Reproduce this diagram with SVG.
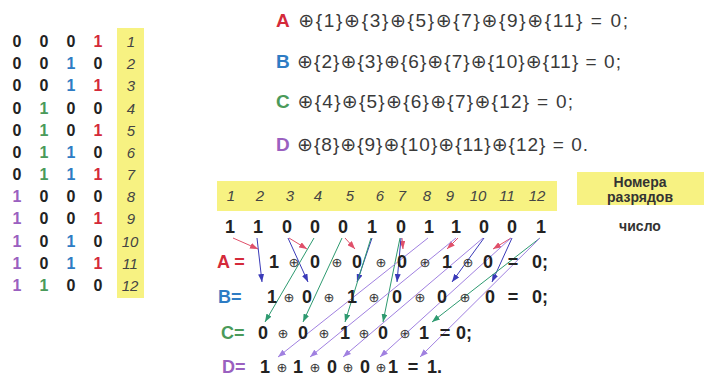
<svg xmlns="http://www.w3.org/2000/svg" width="704" height="378" viewBox="0 0 704 378">
<defs>
<style>
.t{font-family:"Liberation Sans","DejaVu Sans",sans-serif;}
.d{font-family:"Liberation Sans",sans-serif;font-weight:bold;font-size:16px;text-anchor:middle;fill:#222;}
.n{font-family:"Liberation Sans",sans-serif;font-style:italic;font-size:15px;text-anchor:middle;fill:#444;}
.b{font-family:"Liberation Sans",sans-serif;font-weight:bold;font-size:18px;text-anchor:middle;fill:#222;}
.o{font-family:"DejaVu Sans",sans-serif;font-size:13px;text-anchor:middle;fill:#333;}
.eq{font-family:"Liberation Sans","DejaVu Sans",sans-serif;font-size:19px;fill:#3a3a3a;}
.r{fill:#d42a3a;} .bl{fill:#2e7cc4;} .g{fill:#4a9a5a;} .p{fill:#9a60c0;}
.y{fill:#f7f282;}
.ar{stroke:#e0506a;stroke-width:1;fill:none;marker-end:url(#mr);}
.ab{stroke:#3a3ab8;stroke-width:1;fill:none;marker-end:url(#mb);}
.ag{stroke:#2e9a70;stroke-width:1;fill:none;marker-end:url(#mg);}
.ap{stroke:#a080e0;stroke-width:1;fill:none;marker-end:url(#mp);}
</style>
<marker id="mr" markerUnits="userSpaceOnUse" markerWidth="8" markerHeight="6" refX="8" refY="3" orient="auto"><path d="M0,0 L8,3 L0,6 z" fill="#e0506a"/></marker>
<marker id="mb" markerUnits="userSpaceOnUse" markerWidth="8" markerHeight="6" refX="8" refY="3" orient="auto"><path d="M0,0 L8,3 L0,6 z" fill="#3a3ab8"/></marker>
<marker id="mg" markerUnits="userSpaceOnUse" markerWidth="8" markerHeight="6" refX="8" refY="3" orient="auto"><path d="M0,0 L8,3 L0,6 z" fill="#2e9a70"/></marker>
<marker id="mp" markerUnits="userSpaceOnUse" markerWidth="8" markerHeight="6" refX="8" refY="3" orient="auto"><path d="M0,0 L8,3 L0,6 z" fill="#a080e0"/></marker>
</defs>
<rect width="704" height="378" fill="#ffffff"/>

<g id="table">
<rect class="y" x="117" y="28" width="27" height="270"/>
<g id="row1"><text class="d" x="17" y="47">0</text><text class="d" x="44" y="47">0</text><text class="d" x="71" y="47">0</text><text class="d r" x="98" y="47">1</text><text class="n" x="131" y="47">1</text></g>
<g id="row2"><text class="d" x="17" y="69">0</text><text class="d" x="44" y="69">0</text><text class="d bl" x="71" y="69">1</text><text class="d" x="98" y="69">0</text><text class="n" x="131" y="69">2</text></g>
<g id="row3"><text class="d" x="17" y="91">0</text><text class="d" x="44" y="91">0</text><text class="d bl" x="71" y="91">1</text><text class="d r" x="98" y="91">1</text><text class="n" x="131" y="91">3</text></g>
<g id="row4"><text class="d" x="17" y="114">0</text><text class="d g" x="44" y="114">1</text><text class="d" x="71" y="114">0</text><text class="d" x="98" y="114">0</text><text class="n" x="131" y="114">4</text></g>
<g id="row5"><text class="d" x="17" y="136">0</text><text class="d g" x="44" y="136">1</text><text class="d" x="71" y="136">0</text><text class="d r" x="98" y="136">1</text><text class="n" x="131" y="136">5</text></g>
<g id="row6"><text class="d" x="17" y="158">0</text><text class="d g" x="44" y="158">1</text><text class="d bl" x="71" y="158">1</text><text class="d" x="98" y="158">0</text><text class="n" x="131" y="158">6</text></g>
<g id="row7"><text class="d" x="17" y="180">0</text><text class="d g" x="44" y="180">1</text><text class="d bl" x="71" y="180">1</text><text class="d r" x="98" y="180">1</text><text class="n" x="131" y="180">7</text></g>
<g id="row8"><text class="d p" x="17" y="202">1</text><text class="d" x="44" y="202">0</text><text class="d" x="71" y="202">0</text><text class="d" x="98" y="202">0</text><text class="n" x="131" y="202">8</text></g>
<g id="row9"><text class="d p" x="17" y="224">1</text><text class="d" x="44" y="224">0</text><text class="d" x="71" y="224">0</text><text class="d r" x="98" y="224">1</text><text class="n" x="131" y="224">9</text></g>
<g id="row10"><text class="d p" x="17" y="247">1</text><text class="d" x="44" y="247">0</text><text class="d bl" x="71" y="247">1</text><text class="d" x="98" y="247">0</text><text class="n" x="130" y="247">10</text></g>
<g id="row11"><text class="d p" x="17" y="269">1</text><text class="d" x="44" y="269">0</text><text class="d bl" x="71" y="269">1</text><text class="d r" x="98" y="269">1</text><text class="n" x="130" y="269">11</text></g>
<g id="row12"><text class="d p" x="17" y="291">1</text><text class="d g" x="44" y="291">1</text><text class="d" x="71" y="291">0</text><text class="d" x="98" y="291">0</text><text class="n" x="130" y="291">12</text></g>
</g>

<g id="equations">
<text class="eq" x="276" y="27" textLength="352" lengthAdjust="spacing"><tspan class="r" font-weight="bold">A</tspan> ⊕{1}⊕{3}⊕{5}⊕{7}⊕{9}⊕{11} = 0;</text>
<text class="eq" x="276" y="68" textLength="345" lengthAdjust="spacing"><tspan class="bl" font-weight="bold">B</tspan> ⊕{2}⊕{3}⊕{6}⊕{7}⊕{10}⊕{11} = 0;</text>
<text class="eq" x="276" y="108" textLength="297" lengthAdjust="spacing"><tspan class="g" font-weight="bold">C</tspan> ⊕{4}⊕{5}⊕{6}⊕{7}⊕{12} = 0;</text>
<text class="eq" x="276" y="151" textLength="312" lengthAdjust="spacing"><tspan class="p" font-weight="bold">D</tspan> ⊕{8}⊕{9}⊕{10}⊕{11}⊕{12} = 0.</text>
</g>

<g id="positions">
<rect class="y" x="217" y="181" width="340" height="30"/>
<text class="n" y="201"><tspan x="231">1</tspan><tspan x="260">2</tspan><tspan x="290">3</tspan><tspan x="318">4</tspan><tspan x="350">5</tspan><tspan x="380">6</tspan><tspan x="402">7</tspan><tspan x="427">8</tspan><tspan x="450">9</tspan><tspan x="478">10</tspan><tspan x="507">11</tspan><tspan x="537">12</tspan></text>
</g>
<g id="legend-positions">
<rect class="y" x="577" y="172" width="127" height="33"/>
<text class="t" font-weight="bold" font-size="14" fill="#333" text-anchor="middle"><tspan x="640" y="187">Номера</tspan><tspan x="640" y="202">разрядов</tspan></text>
</g>
<g id="number">
<text class="b" y="233"><tspan x="230">1</tspan><tspan x="258">1</tspan><tspan x="287">0</tspan><tspan x="315">0</tspan><tspan x="343">0</tspan><tspan x="372">1</tspan><tspan x="401">0</tspan><tspan x="429">1</tspan><tspan x="456">1</tspan><tspan x="484">0</tspan><tspan x="512">0</tspan><tspan x="541">1</tspan></text>
<text class="t" x="640" y="231" font-weight="bold" font-size="14" fill="#333" text-anchor="middle">число</text>
</g>

<g id="connectors">
<line class="ar" x1="233" y1="238" x2="258" y2="249"/>
<line class="ar" x1="289" y1="238" x2="307" y2="249"/>
<line class="ar" x1="345" y1="238" x2="355" y2="249"/>
<line class="ar" x1="402" y1="238" x2="403" y2="249"/>
<line class="ar" x1="458" y1="238" x2="447" y2="249"/>
<line class="ar" x1="511" y1="238" x2="493" y2="249"/>
<line class="ab" x1="257" y1="238" x2="262" y2="282"/>
<line class="ab" x1="288" y1="238" x2="308" y2="282"/>
<line class="ab" x1="372" y1="238" x2="357" y2="282"/>
<line class="ab" x1="401" y1="238" x2="397" y2="282"/>
<line class="ab" x1="484" y1="238" x2="452" y2="282"/>
<line class="ab" x1="512" y1="238" x2="492" y2="282"/>
<line class="ag" x1="314" y1="238" x2="265" y2="322"/>
<line class="ag" x1="342" y1="238" x2="303" y2="322"/>
<line class="ag" x1="371" y1="238" x2="345" y2="322"/>
<line class="ag" x1="400" y1="238" x2="383" y2="322"/>
<line class="ag" x1="540" y1="238" x2="432" y2="322"/>
<line class="ap" x1="428" y1="238" x2="278" y2="357"/>
<line class="ap" x1="456" y1="238" x2="310" y2="357"/>
<line class="ap" x1="483" y1="238" x2="343" y2="357"/>
<line class="ap" x1="511" y1="238" x2="380" y2="357"/>
<line class="ap" x1="540" y1="238" x2="420" y2="357"/>
</g>

<g id="rowA">
<text class="t r" x="217" y="268" font-weight="bold" font-size="18">A =</text>
<text class="b" y="268"><tspan x="274">1</tspan><tspan x="315">0</tspan><tspan x="357">0</tspan><tspan x="402">0</tspan><tspan x="447">1</tspan><tspan x="488">0</tspan><tspan x="513">=</tspan></text>
<text class="o" y="267"><tspan x="294">⊕</tspan><tspan x="337">⊕</tspan><tspan x="381">⊕</tspan><tspan x="425">⊕</tspan><tspan x="468">⊕</tspan></text>
<text class="t" x="532" y="268" font-weight="bold" font-size="18" fill="#222">0;</text>
</g>
<g id="rowB">
<text class="t bl" x="218" y="303" font-weight="bold" font-size="18">B=</text>
<text class="b" y="303"><tspan x="272">1</tspan><tspan x="307">0</tspan><tspan x="352">1</tspan><tspan x="397">0</tspan><tspan x="442">0</tspan><tspan x="490">0</tspan><tspan x="513">=</tspan></text>
<text class="o" y="302"><tspan x="289">⊕</tspan><tspan x="329">⊕</tspan><tspan x="374">⊕</tspan><tspan x="420">⊕</tspan><tspan x="465">⊕</tspan></text>
<text class="t" x="532" y="303" font-weight="bold" font-size="18" fill="#222">0;</text>
</g>
<g id="rowC">
<text class="t g" x="221" y="339" font-weight="bold" font-size="18">C=</text>
<text class="b" y="339"><tspan x="263">0</tspan><tspan x="303">0</tspan><tspan x="345">1</tspan><tspan x="383">0</tspan><tspan x="424">1</tspan><tspan x="445">=</tspan></text>
<text class="o" y="338"><tspan x="283">⊕</tspan><tspan x="324">⊕</tspan><tspan x="364">⊕</tspan><tspan x="405">⊕</tspan></text>
<text class="t" x="456" y="339" font-weight="bold" font-size="18" fill="#222">0;</text>
</g>
<g id="rowD">
<text class="t p" x="222" y="373" font-weight="bold" font-size="18">D=</text>
<text class="b" y="373"><tspan x="265">1</tspan><tspan x="298">1</tspan><tspan x="332">0</tspan><tspan x="365">0</tspan><tspan x="393">1</tspan><tspan x="413">=</tspan></text>
<text class="o" y="372"><tspan x="282">⊕</tspan><tspan x="315">⊕</tspan><tspan x="348">⊕</tspan><tspan x="381">⊕</tspan></text>
<text class="t" x="427" y="373" font-weight="bold" font-size="18" fill="#222">1.</text>
</g>
</svg>
